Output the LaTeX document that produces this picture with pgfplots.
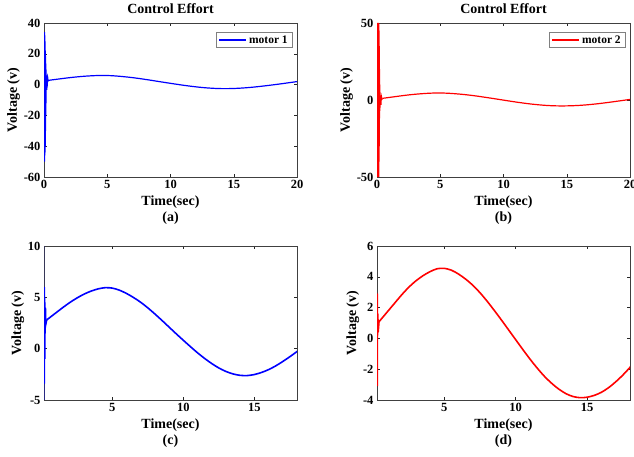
\documentclass[border=0pt]{standalone}
\usepackage{fontspec}
\setmainfont{Liberation Serif}
\usepackage{pgfplots}
\pgfplotsset{compat=1.18}
\usepackage{pgfplotstable}

% motor 1: start-up transient
\pgfplotstableread{
t v
0 0
0.005 34
0.01 -50
0.015 34
0.02 -50
0.025 34
0.03 -50
0.035 34
0.04 -50
0.045 33
0.05 -48
0.055 32
0.06 -46
0.07 30
0.08 -44
0.09 28
0.10 -40
0.11 22
0.12 -30
0.13 15
0.14 -20
0.15 10
0.16 -12
0.17 6
0.18 -3
0.19 3
0.20 0
0.205 6.0
0.21 -3.4
0.215 6.0
0.22 -3.4
0.225 5.5
0.23 -2
0.24 5
0.25 -1
0.26 4.5
0.28 1.5
0.30 4
0.33 2.4
0.39 2.8
}\motorAtr
% motor 1: steady part
\pgfplotstableread{
t v
0.39 2.8
1 3.45
1.5 3.98
2 4.48
2.5 4.92
3 5.3
3.5 5.6
4 5.82
4.5 5.94
5 5.9
5.5 5.7
6 5.38
6.5 4.98
7 4.52
7.5 3.98
8 3.38
8.5 2.75
9 2.1
9.5 1.45
10 0.82
10.5 0.2
11 -0.4
11.5 -0.95
12 -1.45
12.5 -1.88
13 -2.22
13.5 -2.46
14 -2.6
14.5 -2.62
15 -2.52
15.5 -2.32
16 -2.04
16.5 -1.68
17 -1.25
17.5 -0.78
18 -0.28
18.5 0.25
19 0.8
19.5 1.38
20 1.95
}\motorA

% motor 2: start-up transient
\pgfplotstableread{
t v
0 0
0.005 50
0.01 -50
0.015 50
0.02 -50
0.025 50
0.03 -50
0.035 50
0.04 -50
0.045 50
0.05 -50
0.055 50
0.06 -50
0.065 50
0.07 -50
0.075 50
0.08 -50
0.085 50
0.09 -50
0.095 50
0.10 -50
0.11 50
0.12 -50
0.13 50
0.14 -50
0.15 45
0.16 -40
0.17 35
0.18 -30
0.19 20
0.20 -12
0.21 10
0.22 -7
0.23 5
0.24 -5
0.25 3
0.26 -3
0.28 1
0.30 0
0.305 2.9
0.31 -3.1
0.315 2.9
0.32 -3.1
0.33 1.6
0.34 0.2
0.36 1.6
0.38 0.4
0.44 1.08
}\motorBtr
% motor 2: steady part
\pgfplotstableread{
t v
0.44 1.08
1 1.7
1.5 2.25
2 2.8
2.5 3.3
3 3.72
3.5 4.06
4 4.33
4.5 4.52
5 4.55
5.5 4.43
6 4.18
6.5 3.85
7 3.45
7.5 2.97
8 2.42
8.5 1.82
9 1.2
9.5 0.56
10 -0.08
10.5 -0.72
11 -1.34
11.5 -1.92
12 -2.45
12.5 -2.9
13 -3.28
13.5 -3.58
14 -3.77
14.5 -3.85
15 -3.82
15.5 -3.7
16 -3.5
16.5 -3.2
17 -2.82
17.5 -2.38
18 -1.88
18.5 -1.34
19 -0.78
19.5 -0.2
20 0.38
}\motorB

\pgfplotsset{
  mystyle/.style={
    scale only axis, width=253pt, height=154pt, anchor=south west,
    axis line style={black!75, line width=0.6pt},
    tick style={black!85, line width=0.5pt},
    major tick length=3pt, tick align=inside,
    /pgf/number format/assume math mode=true,
    tick label style={font=\bfseries\fontsize{12.5}{14}\selectfont},
    label style={font=\bfseries\fontsize{14}{16}\selectfont},
    xlabel style={align=center},
    ylabel style={yshift=-3pt},
    title style={font=\bfseries\fontsize{14}{16}\selectfont},
    legend style={at={(0.98,0.94)}, anchor=north east, draw=black!50,
      font=\bfseries\fontsize{11.5}{12}\selectfont, inner xsep=2pt, inner ysep=1pt},
    legend image code/.code={\draw[#1, line width=2pt] (0pt,0pt) -- (27pt,0pt);},
  }
}

\begin{document}
\begin{tikzpicture}
\path[use as bounding box] (0,0) rectangle (634pt,456pt);

\begin{axis}[mystyle, at={(44pt,279pt)},
  xmin=0, xmax=20, ymin=-60, ymax=40,
  xtick={0,5,10,15,20}, ytick={-60,-40,-20,0,20,40},
  title={Control Effort}, xlabel={Time(sec)\\(a)}, ylabel={Voltage (v)}]
\addplot[blue, line width=1.2pt, smooth, tension=0.5] table[x=t, y=v] {\motorA};
\addlegendentry{motor 1}
\addplot[blue, line width=1.2pt, forget plot] table[x=t, y=v] {\motorAtr};
\end{axis}

\begin{axis}[mystyle, at={(377pt,279pt)},
  xmin=0, xmax=20, ymin=-50, ymax=50,
  xtick={0,5,10,15,20}, ytick={-50,0,50},
  title={Control Effort}, xlabel={Time(sec)\\(b)}, ylabel={Voltage (v)}]
\addplot[red, line width=1.2pt, smooth, tension=0.5] table[x=t, y=v] {\motorB};
\addlegendentry{motor 2}
\addplot[red, line width=1.2pt, forget plot] table[x=t, y=v] {\motorBtr};
\end{axis}

\begin{axis}[mystyle, at={(44pt,56pt)},
  xmin=0.2, xmax=18, ymin=-5, ymax=10,
  xtick={5,10,15}, ytick={-5,0,5,10},
  xlabel={Time(sec)\\(c)}, ylabel={Voltage (v)}]
\addplot[blue, line width=1.6pt, smooth, tension=0.5] table[x=t, y=v] {\motorA};
\addplot[blue, line width=1.6pt] table[x=t, y=v] {\motorAtr};
\end{axis}

\begin{axis}[mystyle, at={(377pt,56pt)},
  xmin=0.3, xmax=18, ymin=-4, ymax=6,
  xtick={5,10,15}, ytick={-4,-2,0,2,4,6},
  xlabel={Time(sec)\\(d)}, ylabel={Voltage (v)}]
\addplot[red, line width=1.6pt, smooth, tension=0.5] table[x=t, y=v] {\motorB};
\addplot[red, line width=1.6pt] table[x=t, y=v] {\motorBtr};
\end{axis}
\end{tikzpicture}
\end{document}
